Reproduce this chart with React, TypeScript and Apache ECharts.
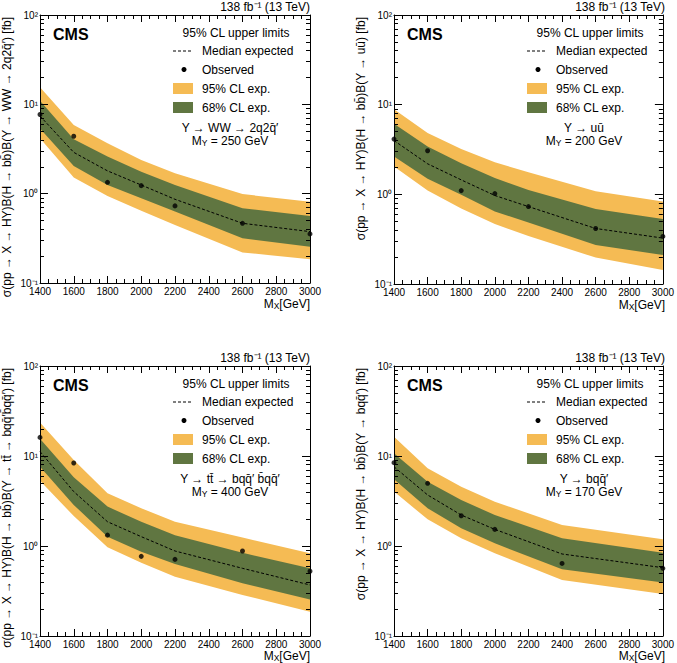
import React, { useEffect, useRef } from 'react';
import * as echarts from 'echarts';

const FONT = '"Liberation Sans", Arial, Helvetica, sans-serif';

// ---- data ----
const massWW = [1400, 1600, 1800, 2000, 2200, 2600, 3000];
const obsWW = [7.7, 4.39, 1.34, 1.23, 0.73, 0.466, 0.354];
const expWW = [7.4, 2.9, 1.8, 1.25, 0.865, 0.466, 0.376];
const up68WW = [11.0, 4.06, 2.6, 1.76, 1.25, 0.686, 0.562];
const lo68WW = [5.38, 2.04, 1.25, 0.887, 0.63, 0.316, 0.255];
const up95WW = [15.5, 5.87, 3.66, 2.38, 1.69, 0.99, 0.81];
const lo95WW = [4.16, 1.52, 0.94, 0.645, 0.446, 0.22, 0.184];

const massUU = [1400, 1600, 1800, 2000, 2200, 2600, 3000];
const obsUU = [4.13, 3.06, 1.1, 1.02, 0.73, 0.416, 0.339];
const expUU = [3.98, 2.19, 1.45, 0.97, 0.73, 0.416, 0.325];
const up68UU = [6.12, 3.42, 2.22, 1.52, 1.12, 0.686, 0.53];
const lo68UU = [2.64, 1.49, 0.99, 0.645, 0.486, 0.273, 0.211];
const up95UU = [8.87, 4.82, 3.21, 2.28, 1.76, 1.08, 0.83];
const lo95UU = [2.04, 1.1, 0.697, 0.466, 0.344, 0.197, 0.143];

const massTT = [1400, 1600, 1800, 2000, 2200, 2600, 3000];
const obsTT = [16.1, 8.36, 1.32, 0.767, 0.71, 0.88, 0.524];
const expTT = [11.2, 4.02, 1.86, 1.27, 0.88, 0.565, 0.369];
const up68TT = [15.5, 5.8, 2.74, 1.86, 1.32, 0.84, 0.565];
const lo68TT = [7.6, 2.86, 1.27, 0.865, 0.63, 0.385, 0.255];
const up95TT = [23.5, 9.0, 3.85, 2.62, 1.86, 1.24, 0.83];
const lo95TT = [5.32, 2.15, 0.97, 0.653, 0.456, 0.286, 0.186];

const massBQ = [1400, 1600, 1800, 2000, 2400, 3000];
const obsBQ = [8.43, 4.97, 2.17, 1.53, 0.64, 0.565];
const expBQ = [7.6, 3.69, 2.21, 1.53, 0.815, 0.574];
const up68BQ = [10.7, 5.19, 3.24, 2.21, 1.22, 0.84];
const lo68BQ = [5.51, 2.62, 1.57, 1.07, 0.551, 0.392];
const up95BQ = [16.4, 7.3, 4.56, 3.11, 1.71, 1.19];
const lo95BQ = [4.02, 1.98, 1.22, 0.83, 0.419, 0.293];

const yTickValues = [0.1, 1, 10, 100];
const yTickLabels = ['10⁻¹', '10⁰', '10¹', '10²'];
const yMinorValues = [0.2, 0.3, 0.4, 0.5, 0.6, 0.7, 0.8, 0.9, 2, 3, 4, 5, 6, 7, 8, 9, 20, 30, 40, 50, 60, 70, 80, 90];

const yTitles = [
  'σ(pp → X → HY)B(H → bb̄)B(Y → WW → 2q2q̄′) [fb]',
  'σ(pp → X → HY)B(H → bb̄)B(Y → uū) [fb]',
  'σ(pp → X → HY)B(H → bb̄)B(Y → tt̄ → bqq̄′b̄qq̄′) [fb]',
  'σ(pp → X → HY)B(H → bb̄)B(Y → bqq̄′) [fb]',
];
const processLabels = ['Y → WW → 2q2q̄′', 'Y → uū', 'Y → tt̄ → bqq̄′ b̄qq̄′', 'Y → bqq̄′'];
const myValues = ['250', '200', '400', '170'];
const legendLabels = ['95% CL upper limits', 'Median expected', 'Observed', '95% CL exp.', '68% CL exp.'];

const COL95 = '#F5BB54';
const COL68 = '#607641';

const panelData = [
  { mass: massWW, obs: obsWW, exp: expWW, up68: up68WW, lo68: lo68WW, up95: up95WW, lo95: lo95WW },
  { mass: massUU, obs: obsUU, exp: expUU, up68: up68UU, lo68: lo68UU, up95: up95UU, lo95: lo95UU },
  { mass: massTT, obs: obsTT, exp: expTT, up68: up68TT, lo68: lo68TT, up95: up95TT, lo95: lo95TT },
  { mass: massBQ, obs: obsBQ, exp: expBQ, up68: up68BQ, lo68: lo68BQ, up95: up95BQ, lo95: lo95BQ },
];

const grids = [
  { left: 40, top: 15, width: 270, height: 268 },
  { left: 394, top: 15, width: 271, height: 269 },
  { left: 40, top: 366, width: 270, height: 270 },
  { left: 394, top: 366, width: 271, height: 270 },
];
const xTitleGap = [21, 21, 20, 20];

function bandSeries(i: number, mass: number[], upper: number[], lower: number[], color: string, z: number) {
  return {
    type: 'custom',
    xAxisIndex: i * 2,
    yAxisIndex: i * 4,
    silent: true,
    z,
    data: [[mass[0], upper[0]]],
    renderItem: (_params: any, api: any) => {
      const pts: number[][] = [];
      for (let k = 0; k < mass.length; k++) pts.push(api.coord([mass[k], upper[k]]));
      for (let k = mass.length - 1; k >= 0; k--) pts.push(api.coord([mass[k], lower[k]]));
      return { type: 'polygon', shape: { points: pts }, style: { fill: color, stroke: null } };
    },
  };
}

function buildOption() {
  const xAxis: any[] = [];
  const yAxis: any[] = [];
  const series: any[] = [];
  const graphic: any[] = [];
  const black = { color: '#000', width: 1 };
  const subRich = { s: { fontSize: 8.5, fontFamily: FONT, fill: '#000', padding: [3, 0, 0, 0] } };

  grids.forEach((g, i) => {
    ['bottom', 'top'].forEach((pos) => {
      xAxis.push({
        gridIndex: i, type: 'value', min: 1400, max: 3000, interval: 200, position: pos, z: 10,
        axisLine: { show: true, onZero: false, lineStyle: black },
        axisTick: { show: true, inside: true, length: 7, lineStyle: black },
        minorTick: { show: true, splitNumber: 4, length: 4, lineStyle: black },
        splitLine: { show: false },
        axisLabel: {
          show: pos === 'bottom', fontSize: 10, lineHeight: 11, color: '#000', margin: 3, fontFamily: FONT,
          formatter: (v: number) => String(v),
        },
      });
    });
    ['left', 'right'].forEach((pos) => {
      yAxis.push({
        gridIndex: i, type: 'log', logBase: 10, min: 0.1, max: 100, position: pos, z: 10,
        axisLine: { show: true, onZero: false, lineStyle: black },
        axisTick: { show: true, inside: true, length: 8, lineStyle: black },
        splitLine: { show: false },
        axisLabel: {
          show: pos === 'left', fontSize: 10, color: '#000', margin: 2, fontFamily: FONT,
          formatter: (v: number) => {
            const idx = yTickValues.findIndex((t) => Math.abs(t - v) / t < 1e-6);
            return idx >= 0 ? yTickLabels[idx] : '';
          },
        },
      });
      yAxis.push({
        gridIndex: i, type: 'log', logBase: 10, min: 0.1, max: 100, position: pos, z: 10,
        axisLine: { show: false, onZero: false },
        axisTick: { show: true, inside: true, length: 4, lineStyle: black, customValues: yMinorValues },
        splitLine: { show: false },
        axisLabel: { show: false },
      });
    });

    const d = panelData[i];
    series.push(bandSeries(i, d.mass, d.up95, d.lo95, COL95, 1));
    series.push(bandSeries(i, d.mass, d.up68, d.lo68, COL68, 2));
    series.push({
      type: 'line', xAxisIndex: i * 2, yAxisIndex: i * 4, z: 3, symbol: 'none', silent: true,
      data: d.mass.map((m, k) => [m, d.exp[k]]),
      lineStyle: { color: '#000', width: 1, type: [3, 2] },
    });
    series.push({
      type: 'scatter', xAxisIndex: i * 2, yAxisIndex: i * 4, z: 4, symbol: 'circle', symbolSize: 5, silent: true,
      data: d.mass.map((m, k) => [m, d.obs[k]]),
      itemStyle: { color: '#000' },
    });

    const gx = g.left, gy = g.top, gr = g.left + g.width, gb = g.top + g.height;
    const txt = (x: number, y: number, text: string, extra: any = {}) => ({
      type: 'text', x, y, z: 20,
      style: { text, fontFamily: FONT, fontSize: 12, fill: '#000', align: 'left', verticalAlign: 'middle', ...extra },
    });
    graphic.push(txt(gx + 13, gy + 19, 'CMS', { fontSize: 16, fontWeight: 'bold' }));
    graphic.push(txt(gr, gy - 8, '138 fb⁻¹ (13 TeV)', { align: 'right' }));
    graphic.push(txt(gx + 196, gy + 18, legendLabels[0], { align: 'center' }));
    graphic.push({ type: 'line', z: 20, shape: { x1: gx + 133, y1: gy + 36, x2: gx + 153, y2: gy + 36 }, style: { stroke: '#000', lineWidth: 1, lineDash: [3, 2] } });
    graphic.push({ type: 'circle', z: 20, shape: { cx: gx + 144, cy: gy + 54.5, r: 2.5 }, style: { fill: '#000' } });
    graphic.push({ type: 'rect', z: 20, shape: { x: gx + 133, y: gy + 68, width: 20, height: 11 }, style: { fill: COL95 } });
    graphic.push({ type: 'rect', z: 20, shape: { x: gx + 133, y: gy + 87, width: 20, height: 11 }, style: { fill: COL68 } });
    graphic.push(txt(gx + 162, gy + 36, legendLabels[1]));
    graphic.push(txt(gx + 162, gy + 54.5, legendLabels[2]));
    graphic.push(txt(gx + 162, gy + 73.5, legendLabels[3]));
    graphic.push(txt(gx + 162, gy + 92.5, legendLabels[4]));
    graphic.push(txt(gx + 190, gy + 113, processLabels[i], { align: 'center', lineHeight: 13 }));
    graphic.push(txt(gx + 190, gy + 126, `M{s|Y} = ${myValues[i]} GeV`, {
      align: 'center', lineHeight: 12, rich: subRich,
    }));
    graphic.push(txt(gr, gb + xTitleGap[i], 'M{s|X}[GeV]', { align: 'right', lineHeight: 12, rich: subRich }));
    graphic.push({
      type: 'text', x: gx - 33, y: gy + 2, rotation: Math.PI / 2, z: 20,
      style: { text: yTitles[i], fontFamily: FONT, fontSize: 12, fill: '#000', align: 'right', verticalAlign: 'middle' },
    });
  });

  return {
    animation: false,
    backgroundColor: '#fff',
    grid: grids.map((g) => ({ ...g, containLabel: false })),
    xAxis, yAxis, series, graphic,
  };
}

export default function App() {
  const ref = useRef<HTMLDivElement>(null);
  useEffect(() => {
    const chart = echarts.init(ref.current!, null, { renderer: 'svg' });
    chart.setOption(buildOption() as any);
    return () => chart.dispose();
  }, []);
  return <div ref={ref} style={{ position: 'absolute', left: 0, top: 0, width: 677, height: 663 }} />;
}
